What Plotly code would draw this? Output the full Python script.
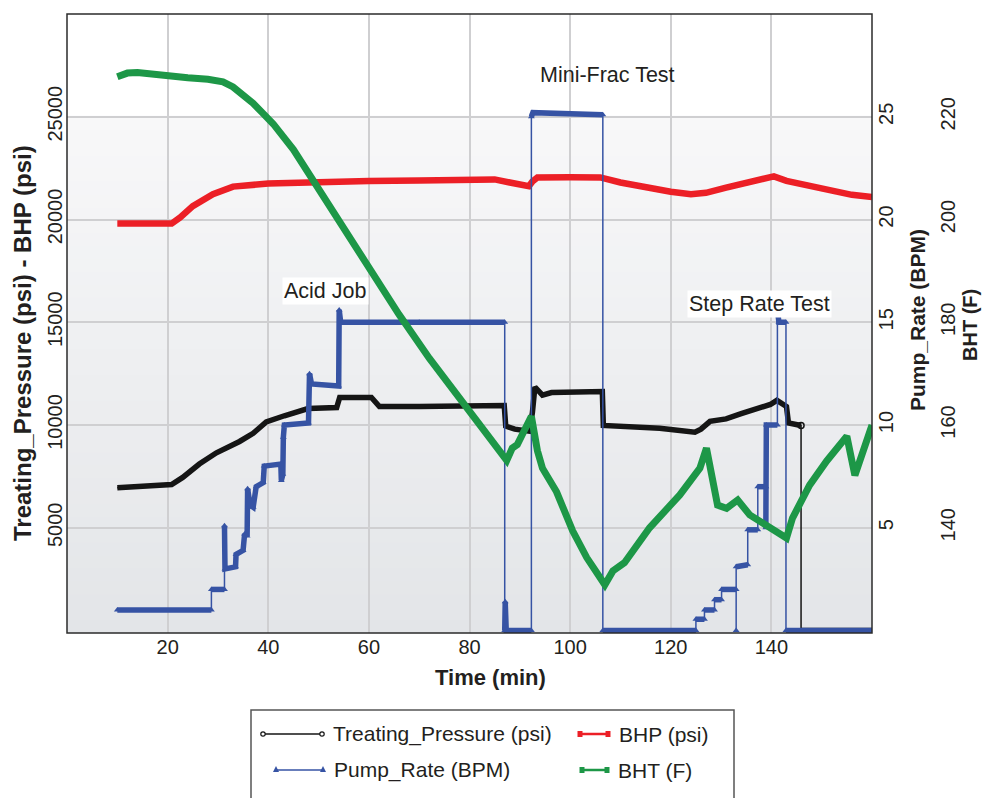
import plotly.graph_objects as go

# ---------------- data ----------------
time_tp = [10, 20.8, 23, 26.3, 29.7, 34.3, 37, 39.6, 43.2, 47.9, 53.6, 54.2, 60.5, 62.1, 70, 80,
           86.9, 87.2, 89, 91.9, 92.5, 93.0, 94.5, 96.3, 106.4, 106.6, 110, 117.8, 124.8, 126,
           127.8, 131, 134, 137, 139.8, 141.1, 142.2, 143.0, 143.4, 145.9, 145.9, 160]
treating_pressure = [6950, 7100, 7450, 8100, 8650, 9200, 9600, 10150, 10450, 10800, 10850, 11340,
                     11340, 10900, 10900, 10950, 10950, 9950, 9800, 9700, 10600, 11850, 11450,
                     11580, 11630, 9980, 9950, 9840, 9650, 9800, 10180, 10300, 10550, 10750, 11000,
                     11200, 11000, 10900, 10100, 9980, 0, 0]

time_bhp = [10, 20.8, 22.5, 25, 29, 33, 40, 50, 60, 70, 80, 85, 88, 91.8, 92.5, 93.5, 100, 106,
            110, 115, 120, 124, 127, 131, 135, 138, 140.5, 143, 147, 152, 156, 160]
bhp = [19800, 19800, 20100, 20650, 21230, 21600, 21750, 21850, 21880, 21900, 21930, 21950, 21800,
       21620, 21850, 22050, 22060, 22050, 21800, 21550, 21350, 21230, 21300, 21550, 21800, 22000,
       22100, 21880, 21650, 21400, 21200, 21100]

time_pump = [10.0, 28.7, 28.7, 31.3, 31.3, 31.4, 33.5, 33.6, 35.0, 35.3, 35.8, 35.9, 36.4, 37.0,
             37.6, 39.0, 39.2, 42.5, 42.6, 42.9, 43.0, 43.2, 48.0, 48.2, 48.6, 54.0, 54.1, 54.4,
             70.0, 87.0, 87.0, 87.1, 87.3, 92.3, 92.3, 92.6, 106.5, 106.5, 125.0, 125.0, 126.7,
             126.7, 128.7, 128.7, 130.1, 130.1, 133.0, 133.0, 133.0, 135.3, 135.3, 137.3, 137.3,
             138.9, 138.9, 139.0, 141.2, 141.2, 141.5, 142.9, 142.9, 160.0]
pump_rate = [1.0, 1.0, 2.0, 2.0, 5.1, 3.0, 3.1, 3.7, 3.9, 4.7, 4.6, 6.9, 6.1, 6.0, 7.0, 7.2, 8.0,
             8.1, 7.3, 7.6, 9.4, 10.0, 10.1, 12.5, 12.0, 11.9, 15.6, 15.0, 15.0, 15.0, 0.0, 1.4,
             0.0, 0.0, 25.0, 25.2, 25.1, 0.0, 0.0, 0.55, 0.55, 1.0, 1.0, 1.5, 1.5, 2.0, 2.0, 0.0,
             3.1, 3.2, 4.9, 4.9, 7.0, 7.0, 5.0, 10.0, 10.0, 15.6, 15.0, 15.0, 0.0, 0.0]

time_bht = [10, 12, 14, 18, 24, 28, 31, 33, 35, 37, 39, 41, 45, 48.8, 55, 60, 66, 72, 79.6, 85,
            87.4, 88.5, 89.5, 92.3, 93.5, 94.5, 97.3, 100.5, 103.3, 106.9, 107.8, 108.5, 110.8,
            115.8, 121.8, 125.8, 127.1, 128.3, 129.3, 131.1, 133.3, 135.7, 139, 143, 144.2, 147.6,
            151, 155, 156.6, 158, 160]
bht = [227.8, 228.5, 228.6, 228.1, 227.6, 227.3, 226.8, 225.8, 224.4, 222.6, 220.6, 218.6, 213.6,
       207.8, 198.4, 190.8, 181.5, 173.0, 163.2, 156.0, 153.1, 155.5, 156.2, 161.7, 155.0, 151.6,
       147.0, 139.4, 134.2, 128.9, 130.5, 131.6, 133.2, 140.0, 146.4, 151.6, 155.5, 149.7, 144.4,
       143.8, 145.4, 142.5, 140.5, 138.0, 141.9, 148.3, 153.0, 157.8, 150.2, 154.0, 160.0]

x_ticks = [20, 40, 60, 80, 100, 120, 140]
left_ticks = [5000, 10000, 15000, 20000, 25000]
pump_ticks = [5, 10, 15, 20, 25]
bht_ticks = [140, 160, 180, 200, 220]

event_labels = ["Acid Job", "Mini-Frac Test", "Step Rate Test"]
event_times = [51.4, 107.5, 137.7]
event_levels = [16500, 27050, 15900]

series_names = ["Treating_Pressure (psi)", "BHP (psi)", "Pump_Rate (BPM)", "BHT (F)"]
axis_titles = ["Time (min)", "Treating_Pressure (psi) - BHP (psi)", "Pump_Rate (BPM)", "BHT (F)"]

# ---------------- styling ----------------
W, H = 985, 798
ML, MR, MT, MB = 67, 0, 14, 165
PLOT_RIGHT = 872
PW = W - ML - MR
PH = H - MT - MB
dom_end = (PLOT_RIGHT - ML) / PW
PAD = 0.004  # small room under zero so the zero-level lines are not half clipped

C_BLACK = "#151515"
C_RED = "#ec1f26"
C_BLUE = "#3653a4"
C_GREEN = "#1d9747"
TXT = "#231f20"
FONT = "Liberation Sans, Arial, Helvetica, sans-serif"


def px_x(px):
    return (px - ML) / PW


def px_y(py):
    return (H - MB - py) / PH


def thick_split(t, v):
    xs, ys = [], []
    for i in range(len(t)):
        if i > 0 and t[i] == t[i - 1]:
            xs.append(None)
            ys.append(None)
        xs.append(t[i])
        ys.append(v[i])
    return xs, ys


fig = go.Figure()

# Pump rate: thin connector with triangles + thick plateaus
fig.add_trace(go.Scatter(x=time_pump, y=pump_rate, yaxis="y2", mode="lines+markers",
                         line=dict(color=C_BLUE, width=1.5),
                         marker=dict(symbol="triangle-up", size=6, color=C_BLUE),
                         showlegend=False, hoverinfo="skip"))
xs, ys = thick_split(time_pump, pump_rate)
fig.add_trace(go.Scatter(x=xs, y=ys, yaxis="y2", mode="lines",
                         line=dict(color=C_BLUE, width=5.5), connectgaps=False,
                         name=series_names[2], showlegend=False))

# Treating pressure
fig.add_trace(go.Scatter(x=time_tp, y=treating_pressure, mode="lines",
                         line=dict(color=C_BLACK, width=1.5), showlegend=False, hoverinfo="skip"))
xs, ys = thick_split(time_tp, treating_pressure)
fig.add_trace(go.Scatter(x=xs, y=ys, mode="lines", line=dict(color=C_BLACK, width=5.5),
                         connectgaps=False, name=series_names[0], showlegend=False))
fig.add_trace(go.Scatter(x=[time_tp[-3]], y=[treating_pressure[-3]], mode="markers",
                         marker=dict(symbol="circle-open", size=6, color=C_BLACK, line=dict(width=1.5)),
                         showlegend=False, hoverinfo="skip"))

# BHP
fig.add_trace(go.Scatter(x=time_bhp, y=bhp, mode="lines", line=dict(color=C_RED, width=6.5),
                         name=series_names[1], showlegend=False))

# BHT
fig.add_trace(go.Scatter(x=time_bht, y=bht, yaxis="y3", mode="lines",
                         line=dict(color=C_GREEN, width=7), name=series_names[3], showlegend=False))

# ---------------- gradient background ----------------
shapes = []
top_white = 1 - (117 - MT) / (633 - MT)
shapes.append(dict(type="rect", xref="x domain", yref="y domain", x0=0, x1=1, y0=top_white, y1=1,
                   fillcolor="#ffffff", line=dict(width=0), layer="below"))
n = 40
c_top = (248, 248, 249)
c_bot = (227, 229, 232)
for i in range(n):
    f0 = i / n
    f1 = (i + 1) / n
    fm = (f0 + f1) / 2
    r = round(c_bot[0] + (c_top[0] - c_bot[0]) * fm)
    g = round(c_bot[1] + (c_top[1] - c_bot[1]) * fm)
    b = round(c_bot[2] + (c_top[2] - c_bot[2]) * fm)
    shapes.append(dict(type="rect", xref="x domain", yref="y domain", x0=0, x1=1,
                       y0=f0 * top_white, y1=f1 * top_white + 0.002,
                       fillcolor=f"rgb({r},{g},{b})", line=dict(width=0), layer="below"))
shapes.append(dict(type="rect", xref="x domain", yref="y domain", x0=0, x1=1, y0=0, y1=1,
                   line=dict(color="#2b2b2b", width=1.5), layer="above"))

# ---------------- manual legend ----------------
shapes.append(dict(type="rect", xref="paper", yref="paper", x0=px_x(251), x1=px_x(734),
                   y0=px_y(820), y1=px_y(710), line=dict(color="#555555", width=1.5),
                   fillcolor="white", layer="above"))
legend_rows = [734, 770]
legend_items = [
    (series_names[0], 263, 322, 0, C_BLACK, 1.5, "circle"),
    (series_names[1], 580, 608, 0, C_RED, 2.5, "square"),
    (series_names[2], 276, 323, 1, C_BLUE, 1.5, "triangle"),
    (series_names[3], 582, 607, 1, C_GREEN, 2.5, "square"),
]
annotations = []
for name, xa, xb, row, col, lw, sym in legend_items:
    yy = legend_rows[row]
    shapes.append(dict(type="line", xref="paper", yref="paper", x0=px_x(xa), x1=px_x(xb),
                       y0=px_y(yy), y1=px_y(yy), line=dict(color=col, width=lw), layer="above"))
    for xe in (xa, xb):
        if sym == "circle":
            shapes.append(dict(type="circle", xref="paper", yref="paper",
                               x0=px_x(xe - 2.2), x1=px_x(xe + 2.2), y0=px_y(yy + 2.2), y1=px_y(yy - 2.2),
                               line=dict(color=col, width=1.2), fillcolor="white", layer="above"))
        elif sym == "square":
            shapes.append(dict(type="rect", xref="paper", yref="paper",
                               x0=px_x(xe - 2.5), x1=px_x(xe + 2.5), y0=px_y(yy + 3), y1=px_y(yy - 3),
                               line=dict(width=0), fillcolor=col, layer="above"))
        else:
            shapes.append(dict(type="path", xref="paper", yref="paper",
                               path=f"M {px_x(xe - 3)} {px_y(yy + 2)} L {px_x(xe + 3)} {px_y(yy + 2)} "
                                    f"L {px_x(xe)} {px_y(yy - 4)} Z",
                               line=dict(width=0), fillcolor=col, layer="above"))
    annotations.append(dict(xref="paper", yref="paper", x=px_x(xb + 9), y=px_y(yy), text=name,
                            showarrow=False, xanchor="left", yanchor="middle",
                            font=dict(size=21, color=TXT, family=FONT)))

for lab, t, lev in zip(event_labels, event_times, event_levels):
    annotations.append(dict(x=t, y=lev, xref="x", yref="y", text=lab, showarrow=False,
                            xanchor="center", yanchor="middle",
                            bgcolor="white" if lab != "Mini-Frac Test" else None,
                            font=dict(size=21.5, color=TXT, family=FONT)))

# axis titles (placed as rotated text for exact positioning)
title_specs = [
    (axis_titles[0], 490, 677, 0, 22),
    (axis_titles[1], 22, 343, -90, 24),
    (axis_titles[2], 917, 320, -90, 21),
    (axis_titles[3], 970, 325, -90, 20),
]
for txt, xp, yp, ang, sz in title_specs:
    annotations.append(dict(xref="paper", yref="paper", x=px_x(xp), y=px_y(yp), text=txt,
                            showarrow=False, xanchor="center", yanchor="middle", textangle=ang,
                            font=dict(size=sz, color=TXT, family=FONT, weight="bold")))

tickfont = dict(size=20, color=TXT, family=FONT)

fig.update_layout(
    width=W, height=H,
    margin=dict(l=ML, r=MR, t=MT, b=MB, autoexpand=False),
    paper_bgcolor="white", plot_bgcolor="white",
    font=dict(family=FONT, color=TXT),
    showlegend=False,
    xaxis=dict(domain=[0, dom_end], range=[0, 160], tickvals=x_ticks, tickfont=tickfont,
               showgrid=True, gridcolor="#cfcfd1", gridwidth=1.5, zeroline=False, ticks=""),
    yaxis=dict(range=[-PAD * 30000, 30000], tickvals=left_ticks,
               ticktext=[str(v) for v in left_ticks], tickangle=-90, tickfont=tickfont,
               showgrid=True, gridcolor="#cfcfd1", gridwidth=1.5, zeroline=False, ticks=""),
    yaxis2=dict(range=[-PAD * 30, 30], tickvals=pump_ticks, tickangle=-90, tickfont=tickfont,
                overlaying="y", side="right", anchor="x", showgrid=False, zeroline=False,
                ticks=""),
    yaxis3=dict(range=[120 - PAD * 120, 240], tickvals=bht_ticks, tickangle=-90, tickfont=tickfont,
                overlaying="y", side="right", anchor="free", position=px_x(934),
                showgrid=False, zeroline=False, showline=False, ticks=""),
    shapes=shapes,
    annotations=annotations,
)

fig.write_html("out.html")
